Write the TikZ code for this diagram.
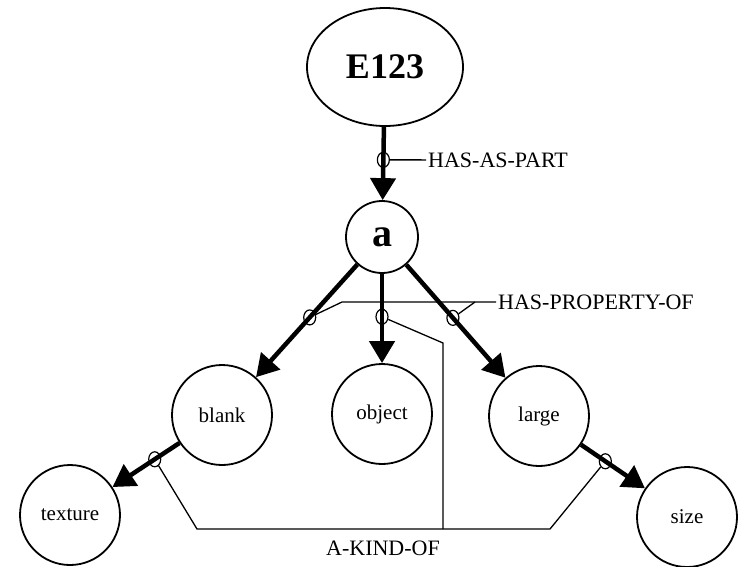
\documentclass[tikz,border=0pt]{standalone}
\usepackage{fontspec}
\setmainfont{Liberation Serif}
\usetikzlibrary{arrows.meta,positioning,shapes.geometric,calc}

\begin{document}
\begin{tikzpicture}[x=1pt,y=-1pt,
	concept/.style={draw,circle,line width=1.8pt,minimum size=100pt,inner sep=0pt,font=\fontsize{21}{21}\selectfont},
	rel/.style={line width=4.5pt,-{Triangle[length=22pt,width=25pt]}},
	marker/.style={draw,ellipse,line width=1.2pt,minimum width=12pt,minimum height=15pt,inner sep=0pt},
	link/.style={line width=1.3pt},
	relname/.style={font=\fontsize{22}{22}\selectfont,inner sep=2pt}]
	\useasboundingbox (0,0) rectangle (738,566);

	% The concepts
	\node[draw,ellipse,line width=1.8pt,minimum width=156pt,minimum height=118pt,
		font=\bfseries\fontsize{36}{36}\selectfont] (e123) at (385,67) {E123};
	\node[concept,minimum size=72pt,font=\bfseries\fontsize{40}{40}\selectfont] (a) at (382,237) {a};
	\node[concept] (blank)   at (222,415) {blank};
	\node[concept] (object)  at (382,414) {object};
	\node[concept] (large)   at (539,416) {large};
	\node[concept] (texture) at (70,515)  {texture};
	\node[concept] (size)    at (687,517) {size};

	% The relations, each with its marker
	\draw[rel] (e123)  -- node[marker,pos=.45] (m1) {} (a);
	\draw[rel] (a)     -- node[marker,pos=.47] (m2) {} (blank);
	\draw[rel] (a)     -- node[marker,pos=.48] (m3) {} (object);
	\draw[rel] (a)     -- node[marker,pos=.47] (m4) {} (large);
	\draw[rel] (blank) -- node[marker,pos=.37] (m5) {} (texture);
	\draw[rel] (large) -- node[marker,pos=.38] (m6) {} (size);

	% HAS-AS-PART
	\node[relname,anchor=west] (hap) at (426,160) {HAS-AS-PART};
	\draw[link] (m1) -- (hap);

	% HAS-PROPERTY-OF
	\node[relname,anchor=west] (hpo) at (496,302) {HAS-PROPERTY-OF};
	\coordinate (p1) at (342,302);
	\coordinate (p3) at (475,302);
	\draw[link] (m2) -- (p1) -- (hpo.west);
	\draw[link] (m4) -- (p3);

	% A-KIND-OF
	\node[relname] (ako) at (383,548) {A-KIND-OF};
	\coordinate (k1) at (197,529);
	\coordinate (k2) at (550,529);
	\coordinate (k3) at (443,343);
	\coordinate (k4) at (443,529);
	\draw[link] (m5) -- (k1) -- (k2) -- (m6);
	\draw[link] (m3) -- (k3) -- (k4);
\end{tikzpicture}
\end{document}
